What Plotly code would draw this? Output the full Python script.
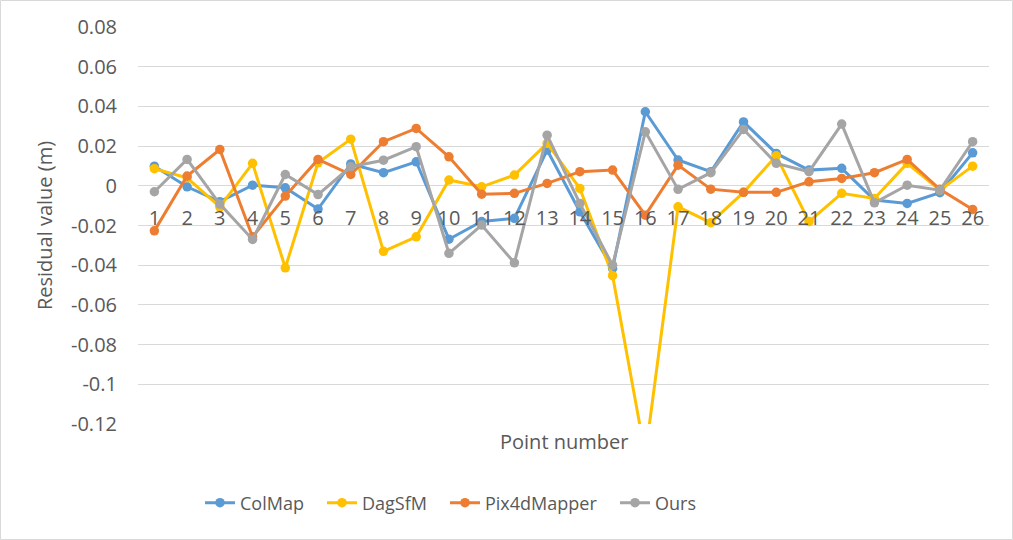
import plotly.graph_objects as go

points = list(range(1, 27))
tick_labels = [str(p) for p in points]

colmap = [0.0099, -0.0005, -0.0080, 0.0003, -0.0010, -0.0117, 0.0110, 0.0066, 0.0121, -0.0269,
          -0.0180, -0.0164, 0.0180, -0.0131, -0.0416, 0.0373, 0.0130, 0.0071, 0.0322, 0.0163,
          0.0079, 0.0088, -0.0072, -0.0089, -0.0035, 0.0166]
dagsfm = [0.0086, 0.0040, -0.0106, 0.0113, -0.0413, 0.0116, 0.0235, -0.0330, -0.0257, 0.0029,
          -0.0005, 0.0054, 0.0214, -0.0013, -0.0453, -0.1357, -0.0106, -0.0186, -0.0033, 0.0151,
          -0.0180, -0.0038, -0.0064, 0.0113, -0.0022, 0.0099]
pix4d = [-0.0227, 0.0049, 0.0183, -0.0257, -0.0052, 0.0133, 0.0057, 0.0222, 0.0289, 0.0146,
         -0.0042, -0.0038, 0.0012, 0.0071, 0.0079, -0.0148, 0.0104, -0.0017, -0.0033, -0.0033,
         0.0020, 0.0037, 0.0066, 0.0133, -0.0018, -0.0119]
ours = [-0.0030, 0.0133, -0.0092, -0.0270, 0.0057, -0.0044, 0.0096, 0.0129, 0.0197, -0.0340,
        -0.0198, -0.0388, 0.0255, -0.0089, -0.0400, 0.0272, -0.0018, 0.0066, 0.0284, 0.0113,
        0.0071, 0.0311, -0.0086, 0.0003, -0.0022, 0.0222]

series_names = ["ColMap", "DagSfM", "Pix4dMapper", "Ours"]
series_values = [colmap, dagsfm, pix4d, ours]
series_colors = ["#5B9BD5", "#FFC000", "#ED7D31", "#A5A5A5"]
legend_left_px = [200, 322, 445, 615]

W, H = 1013, 540
L, R, T, B = 138, 24, 27, 116
pw, ph = W - L - R, H - T - B

fig = go.Figure()
legend_keys = ["legend", "legend2", "legend3", "legend4"]
for name, vals, col, lk in zip(series_names, series_values, series_colors, legend_keys):
    fig.add_trace(go.Scatter(x=points, y=vals, name=name, mode="lines+markers",
                             line=dict(color=col, width=3),
                             marker=dict(color=col, size=9.5), legend=lk))

ymin, ymax = -0.12, 0.08
legend_y = -(503 - (T + ph)) / ph
legends = {}
for lk, lx in zip(legend_keys, legend_left_px):
    legends[lk] = dict(orientation="h", x=(lx - L) / pw, xanchor="left",
                       y=legend_y, yanchor="middle",
                       font=dict(size=18, color="#595959"), bgcolor="rgba(0,0,0,0)")

fig.update_layout(
    width=W, height=H,
    margin=dict(l=L, r=R, t=T, b=B, pad=0),
    paper_bgcolor="white", plot_bgcolor="white",
    font=dict(family="Open Sans", color="#595959", size=20),
    xaxis=dict(range=[0.5, 26.5], tickvals=points, ticktext=tick_labels,
               showgrid=False, zeroline=False, showline=False,
               anchor="free", position=(0 - ymin) / (ymax - ymin),
               ticks="", ticklabelstandoff=18, tickfont=dict(size=20)),
    yaxis=dict(range=[ymin, ymax], showgrid=True,
               gridcolor="#D9D9D9", gridwidth=1,
               zeroline=True, zerolinecolor="#D9D9D9", zerolinewidth=1,
               showline=False, ticks="", ticklabelstandoff=20,
               tickvals=[-0.12, -0.1, -0.08, -0.06, -0.04, -0.02, 0, 0.02, 0.04, 0.06, 0.08],
               ticktext=["-0.12", "-0.1", "-0.08", "-0.06", "-0.04", "-0.02", "0",
                         "0.02", "0.04", "0.06", "0.08"],
               tickfont=dict(size=20),
               title=dict(text="Residual value (m)", standoff=13, font=dict(size=20))),
    showlegend=True,
    **legends,
)

fig.add_annotation(text="Point number", xref="paper", yref="paper",
                   x=0.5, y=-(441 - (T + ph)) / ph, showarrow=False,
                   font=dict(size=20, color="#595959"), xanchor="center", yanchor="middle")

fig.add_shape(type="rect", xref="paper", yref="paper",
              x0=-(L - 0.5) / pw, x1=1 + (R - 0.5) / pw,
              y0=-(B - 0.5) / ph, y1=1 + (T - 0.5) / ph,
              line=dict(color="#D9D9D9", width=1), layer="below")

fig.write_html("out.html", config={"displayModeBar": False},
               post_script="document.body.style.margin='0';")
